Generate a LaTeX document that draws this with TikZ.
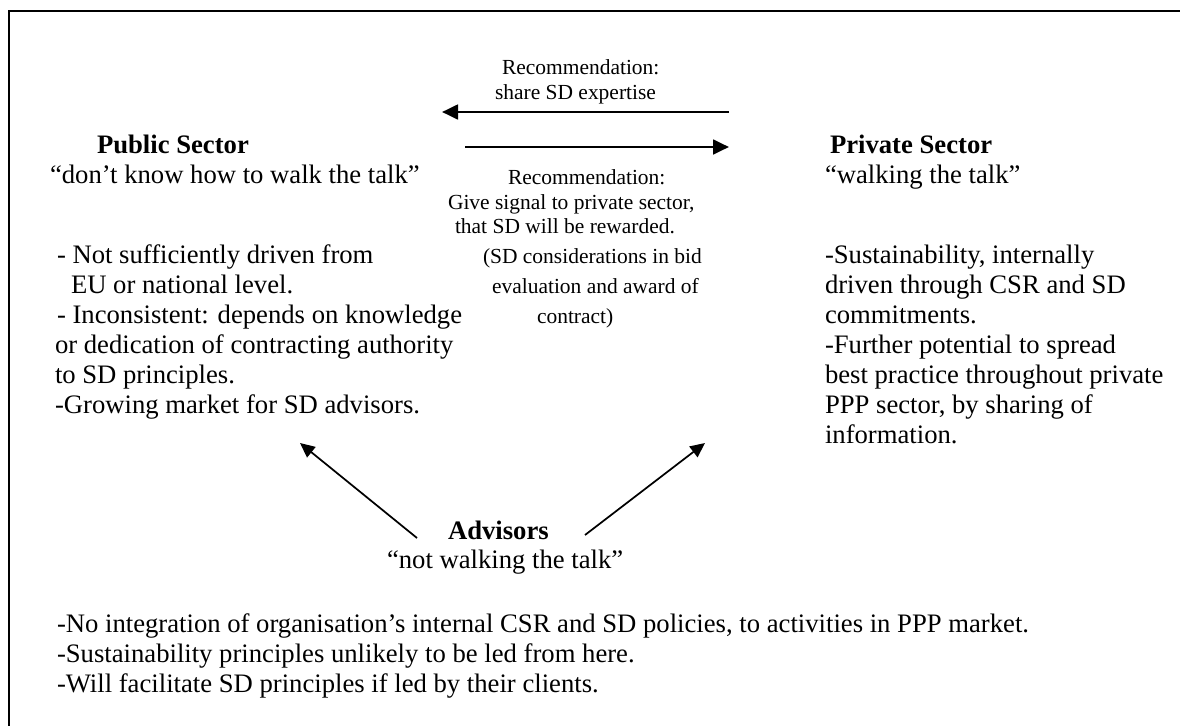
\documentclass[tikz,border=0pt]{standalone}
\usepackage{fontspec}
\setmainfont{Liberation Serif}
\usetikzlibrary{arrows.meta}
\begin{document}
\begin{tikzpicture}[x=0.75pt,y=-0.75pt,
  txt/.style={anchor=base west,inner sep=0pt,outer sep=0pt,font=\fontsize{20pt}{22.5pt}\selectfont},
  hdr/.style={txt,font=\fontsize{20pt}{22.5pt}\selectfont\bfseries},
  rec/.style={anchor=base west,inner sep=0pt,outer sep=0pt,font=\fontsize{16.1pt}{18pt}\selectfont},
  harrow/.style={line width=2.1pt,-{Triangle[length=12pt,width=11pt]}},
  darrow/.style={line width=1.3pt,-{Triangle[length=11pt,width=10pt]}},
  frame/.style={line width=2.2pt}]
\useasboundingbox (0,0) rectangle (1180,725);
% frame (only top and left edges fall inside the picture)
\coordinate (fbl) at (9,727);
\coordinate (ftl) at (9,11);
\coordinate (ftr) at (1182,11);
\draw[frame] (fbl) -- (ftl) -- (ftr);

% Public sector
\node[hdr] (pubT) at (97,153) {Public Sector};
\node[txt] (pubQ) at (50,183) {“don’t know how to walk the talk”};
\node[txt] (pub1) at (57,263) {- Not sufficiently driven from};
\node[txt] (pub2) at (71,293) {EU or national level.};
\node[txt] (pub3) at (57,323) {- Inconsistent: depends on knowledge};
\node[txt] (pub4) at (55,353) {or dedication of contracting authority};
\node[txt] (pub5) at (55,383) {to SD principles.};
\node[txt] (pub6) at (55,413) {-Growing market for SD advisors.};

% Private sector
\node[hdr] (priT) at (830,153) {Private Sector};
\node[txt] (priQ) at (825,183) {“walking the talk”};
\node[txt] (pri1) at (825,263) {-Sustainability, internally};
\node[txt] (pri2) at (825,293) {driven through CSR and SD};
\node[txt] (pri3) at (825,323) {commitments.};
\node[txt] (pri4) at (825,353) {-Further potential to spread};
\node[txt] (pri5) at (825,383) {best practice throughout private};
\node[txt] (pri6) at (825,413) {PPP sector, by sharing of};
\node[txt] (pri7) at (825,443) {information.};

% Recommendations
\node[rec] (recA1) at (502,74) {Recommendation:};
\node[rec] (recA2) at (495,99) {share SD expertise};
\node[rec] (recB1) at (508,184) {Recommendation:};
\node[rec] (recB2) at (448,209) {Give signal to private sector,};
\node[rec] (recB3) at (455,233) {that SD will be rewarded.};
\node[rec] (recB4) at (483,263) {(SD considerations in bid};
\node[rec] (recB5) at (492,293) {evaluation and award of};
\node[rec] (recB6) at (537,323) {contract)};

\coordinate (shareFrom) at (729,112);
\coordinate (shareTo) at (442,112);
\coordinate (signalFrom) at (465,147);
\coordinate (signalTo) at (729,147);
\draw[harrow] (shareFrom) -- (shareTo);
\draw[harrow] (signalFrom) -- (signalTo);

% Advisors
\node[hdr] (advT) at (448,539) {Advisors};
\node[txt] (advQ) at (387,568) {“not walking the talk”};
\coordinate (advL) at (417,538);
\coordinate (pubArr) at (300,443);
\coordinate (advR) at (585,535);
\coordinate (priArr) at (705,443);
\draw[darrow] (advL) -- (pubArr);
\draw[darrow] (advR) -- (priArr);

\node[txt] (adv1) at (57,632) {-No integration of organisation’s internal CSR and SD policies, to activities in PPP market.};
\node[txt] (adv2) at (57,662) {-Sustainability principles unlikely to be led from here.};
\node[txt] (adv3) at (57,692) {-Will facilitate SD principles if led by their clients.};
\end{tikzpicture}
\end{document}
